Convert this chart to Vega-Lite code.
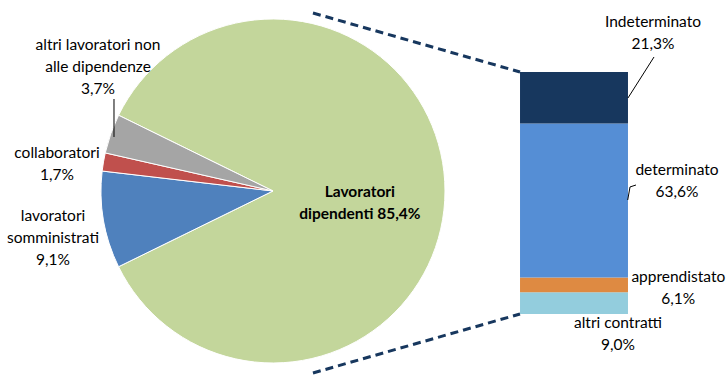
{
  "$schema": "https://vega.github.io/schema/vega-lite/v6.json",
  "width": 727,
  "height": 376,
  "autosize": {"type": "fit", "contains": "padding"},
  "padding": 0,
  "background": "white",
  "config": {"view": {"stroke": null}, "text": {"font": "Lato", "fontSize": 15.5, "color": "#000000", "lineHeight": 22}},
  "datasets": {
    "torta": [
      {"categoria": "Lavoratori dipendenti", "etichetta": "Lavoratori\ndipendenti", "quota": 85.4, "ordine": 1},
      {"categoria": "lavoratori somministrati", "etichetta": "lavoratori\nsomministrati", "quota": 9.1, "ordine": 2},
      {"categoria": "collaboratori", "etichetta": "collaboratori", "quota": 1.7, "ordine": 3},
      {"categoria": "altri lavoratori non alle dipendenze", "etichetta": "altri lavoratori non\nalle dipendenze", "quota": 3.7, "ordine": 4}
    ],
    "barra": [
      {"contratto": "altri contratti", "quota": 9.0, "ordine": 1},
      {"contratto": "apprendistato", "quota": 6.1, "ordine": 2},
      {"contratto": "determinato", "quota": 63.6, "ordine": 3},
      {"contratto": "Indeterminato", "quota": 21.3, "ordine": 4}
    ],
    "uno": [{}]
  },
  "layer": [
    {
      "data": {"name": "torta"},
      "mark": {"type": "arc", "outerRadius": 172, "stroke": "white", "strokeWidth": 1},
      "encoding": {
        "x": {"datum": 37.55, "type": "quantitative", "scale": {"domain": [0, 100], "nice": false, "zero": false}, "axis": null},
        "y": {"datum": 50.83, "type": "quantitative", "scale": {"domain": [-25.62, 129.75], "nice": false, "zero": false}, "axis": null},
        "theta": {"field": "quota", "type": "quantitative", "stack": true, "scale": {"range": [-1.1148, 5.1684]}},
        "order": {"field": "ordine", "type": "quantitative"},
        "color": {"field": "categoria", "type": "nominal", "legend": null,
          "scale": {"domain": ["Lavoratori dipendenti", "lavoratori somministrati", "collaboratori", "altri lavoratori non alle dipendenze", "altri contratti", "apprendistato", "determinato", "Indeterminato"],
                    "range": ["#C3D69B", "#4F81BD", "#C0504D", "#A5A5A5", "#93CDDD", "#DE8A42", "#558ED5", "#17375E"]}}
      }
    },
    {
      "data": {"name": "barra"},
      "transform": [
        {"stack": "quota", "groupby": [], "sort": [{"field": "ordine", "order": "ascending"}], "as": ["base", "cima"]}
      ],
      "mark": {"type": "rect"},
      "encoding": {
        "x": {"datum": 71.53, "type": "quantitative", "scale": {"domain": [0, 100], "nice": false, "zero": false}, "axis": null},
        "x2": {"datum": 86.38},
        "y": {"field": "base", "type": "quantitative", "scale": {"domain": [-25.62, 129.75], "nice": false, "zero": false}, "axis": null},
        "y2": {"field": "cima"},
        "color": {"field": "contratto", "type": "nominal", "legend": null,
          "scale": {"domain": ["Lavoratori dipendenti", "lavoratori somministrati", "collaboratori", "altri lavoratori non alle dipendenze", "altri contratti", "apprendistato", "determinato", "Indeterminato"],
                    "range": ["#C3D69B", "#4F81BD", "#C0504D", "#A5A5A5", "#93CDDD", "#DE8A42", "#558ED5", "#17375E"]}}
      }
    },
    {
      "data": {"name": "uno"},
      "mark": {"type": "rule", "color": "#17375E", "strokeWidth": 3, "strokeDash": [8, 5]},
      "encoding": {
        "x": {"datum": 43.05, "type": "quantitative", "scale": {"domain": [0, 100], "nice": false, "zero": false}, "axis": null},
        "y": {"datum": 124.38, "type": "quantitative", "scale": {"domain": [-25.62, 129.75], "nice": false, "zero": false}, "axis": null},
        "x2": {"datum": 71.53},
        "y2": {"datum": 100}
      }
    },
    {
      "data": {"name": "uno"},
      "mark": {"type": "rule", "color": "#17375E", "strokeWidth": 3, "strokeDash": [8, 5]},
      "encoding": {
        "x": {"datum": 43.05, "type": "quantitative", "scale": {"domain": [0, 100], "nice": false, "zero": false}, "axis": null},
        "y": {"datum": -24.38, "type": "quantitative", "scale": {"domain": [-25.62, 129.75], "nice": false, "zero": false}, "axis": null},
        "x2": {"datum": 71.53},
        "y2": {"datum": 0}
      }
    },
    {
      "data": {"name": "uno"},
      "mark": {"type": "rule", "color": "#000000", "strokeWidth": 1},
      "encoding": {
        "x": {"datum": 15.68, "type": "quantitative", "scale": {"domain": [0, 100], "nice": false, "zero": false}, "axis": null},
        "y": {"datum": 88.84, "type": "quantitative", "scale": {"domain": [-25.62, 129.75], "nice": false, "zero": false}, "axis": null},
        "x2": {"datum": 15.68},
        "y2": {"datum": 73.14}
      }
    },
    {
      "data": {"name": "uno"},
      "mark": {"type": "rule", "color": "#000000", "strokeWidth": 1},
      "encoding": {
        "x": {"datum": 86.38, "type": "quantitative", "scale": {"domain": [0, 100], "nice": false, "zero": false}, "axis": null},
        "y": {"datum": 89.26, "type": "quantitative", "scale": {"domain": [-25.62, 129.75], "nice": false, "zero": false}, "axis": null},
        "x2": {"datum": 89.96},
        "y2": {"datum": 106.2}
      }
    },
    {
      "data": {"name": "uno"},
      "mark": {"type": "rule", "color": "#000000", "strokeWidth": 1},
      "encoding": {
        "x": {"datum": 86.34, "type": "quantitative", "scale": {"domain": [0, 100], "nice": false, "zero": false}, "axis": null},
        "y": {"datum": 47.1, "type": "quantitative", "scale": {"domain": [-25.62, 129.75], "nice": false, "zero": false}, "axis": null},
        "x2": {"datum": 86.66},
        "y2": {"datum": 52.5}
      }
    },
    {
      "data": {"name": "uno"},
      "mark": {"type": "rule", "color": "#000000", "strokeWidth": 1},
      "encoding": {
        "x": {"datum": 86.66, "type": "quantitative", "scale": {"domain": [0, 100], "nice": false, "zero": false}, "axis": null},
        "y": {"datum": 52.5, "type": "quantitative", "scale": {"domain": [-25.62, 129.75], "nice": false, "zero": false}, "axis": null},
        "x2": {"datum": 87.48},
        "y2": {"datum": 53.3}
      }
    },
    {
      "data": {"name": "torta"},
      "transform": [
        {"filter": "datum.categoria === 'Lavoratori dipendenti'"},
        {"calculate": "datum.etichetta + ' ' + replace(format(datum.quota, '.1f'), '.', ',') + '%'", "as": "testo"}
      ],
      "mark": {"type": "text", "lineBreak": "\n", "fontWeight": "bold", "align": "center", "baseline": "alphabetic"},
      "encoding": {
        "x": {"datum": 49.5, "type": "quantitative", "scale": {"domain": [0, 100], "nice": false, "zero": false}, "axis": null},
        "y": {"datum": 48.47, "type": "quantitative", "scale": {"domain": [-25.62, 129.75], "nice": false, "zero": false}, "axis": null},
        "text": {"field": "testo"}
      }
    },
    {
      "data": {"name": "torta"},
      "transform": [
        {"filter": "datum.categoria === 'lavoratori somministrati'"},
        {"calculate": "datum.etichetta + '\\n' + replace(format(datum.quota, '.1f'), '.', ',') + '%'", "as": "testo"}
      ],
      "mark": {"type": "text", "lineBreak": "\n", "align": "center", "baseline": "alphabetic"},
      "encoding": {
        "x": {"datum": 7.29, "type": "quantitative", "scale": {"domain": [0, 100], "nice": false, "zero": false}, "axis": null},
        "y": {"datum": 38.55, "type": "quantitative", "scale": {"domain": [-25.62, 129.75], "nice": false, "zero": false}, "axis": null},
        "text": {"field": "testo"}
      }
    },
    {
      "data": {"name": "torta"},
      "transform": [
        {"filter": "datum.categoria === 'collaboratori'"},
        {"calculate": "datum.etichetta + '\\n' + replace(format(datum.quota, '.1f'), '.', ',') + '%'", "as": "testo"}
      ],
      "mark": {"type": "text", "lineBreak": "\n", "align": "center", "baseline": "alphabetic"},
      "encoding": {
        "x": {"datum": 7.84, "type": "quantitative", "scale": {"domain": [0, 100], "nice": false, "zero": false}, "axis": null},
        "y": {"datum": 64.34, "type": "quantitative", "scale": {"domain": [-25.62, 129.75], "nice": false, "zero": false}, "axis": null},
        "text": {"field": "testo"}
      }
    },
    {
      "data": {"name": "torta"},
      "transform": [
        {"filter": "datum.categoria === 'altri lavoratori non alle dipendenze'"},
        {"calculate": "datum.etichetta + '\\n' + replace(format(datum.quota, '.1f'), '.', ',') + '%'", "as": "testo"}
      ],
      "mark": {"type": "text", "lineBreak": "\n", "align": "center", "baseline": "alphabetic"},
      "encoding": {
        "x": {"datum": 13.48, "type": "quantitative", "scale": {"domain": [0, 100], "nice": false, "zero": false}, "axis": null},
        "y": {"datum": 109.09, "type": "quantitative", "scale": {"domain": [-25.62, 129.75], "nice": false, "zero": false}, "axis": null},
        "text": {"field": "testo"}
      }
    },
    {
      "data": {"name": "barra"},
      "transform": [
        {"filter": "datum.contratto === 'Indeterminato'"},
        {"calculate": "datum.contratto + '\\n' + replace(format(datum.quota, '.1f'), '.', ',') + '%'", "as": "testo"}
      ],
      "mark": {"type": "text", "lineBreak": "\n", "align": "center", "baseline": "alphabetic"},
      "encoding": {
        "x": {"datum": 89.82, "type": "quantitative", "scale": {"domain": [0, 100], "nice": false, "zero": false}, "axis": null},
        "y": {"datum": 118.47, "type": "quantitative", "scale": {"domain": [-25.62, 129.75], "nice": false, "zero": false}, "axis": null},
        "text": {"field": "testo"}
      }
    },
    {
      "data": {"name": "barra"},
      "transform": [
        {"filter": "datum.contratto === 'determinato'"},
        {"calculate": "datum.contratto + '\\n' + replace(format(datum.quota, '.1f'), '.', ',') + '%'", "as": "testo"}
      ],
      "mark": {"type": "text", "lineBreak": "\n", "align": "center", "baseline": "alphabetic"},
      "encoding": {
        "x": {"datum": 93.12, "type": "quantitative", "scale": {"domain": [0, 100], "nice": false, "zero": false}, "axis": null},
        "y": {"datum": 57.44, "type": "quantitative", "scale": {"domain": [-25.62, 129.75], "nice": false, "zero": false}, "axis": null},
        "text": {"field": "testo"}
      }
    },
    {
      "data": {"name": "barra"},
      "transform": [
        {"filter": "datum.contratto === 'apprendistato'"},
        {"calculate": "datum.contratto + '\\n' + replace(format(datum.quota, '.1f'), '.', ',') + '%'", "as": "testo"}
      ],
      "mark": {"type": "text", "lineBreak": "\n", "align": "center", "baseline": "alphabetic"},
      "encoding": {
        "x": {"datum": 93.3, "type": "quantitative", "scale": {"domain": [0, 100], "nice": false, "zero": false}, "axis": null},
        "y": {"datum": 13.35, "type": "quantitative", "scale": {"domain": [-25.62, 129.75], "nice": false, "zero": false}, "axis": null},
        "text": {"field": "testo"}
      }
    },
    {
      "data": {"name": "barra"},
      "transform": [
        {"filter": "datum.contratto === 'altri contratti'"},
        {"calculate": "datum.contratto + '\\n' + replace(format(datum.quota, '.1f'), '.', ',') + '%'", "as": "testo"}
      ],
      "mark": {"type": "text", "lineBreak": "\n", "align": "center", "baseline": "alphabetic"},
      "encoding": {
        "x": {"datum": 85.0, "type": "quantitative", "scale": {"domain": [0, 100], "nice": false, "zero": false}, "axis": null},
        "y": {"datum": -5.91, "type": "quantitative", "scale": {"domain": [-25.62, 129.75], "nice": false, "zero": false}, "axis": null},
        "text": {"field": "testo"}
      }
    }
  ]
}
